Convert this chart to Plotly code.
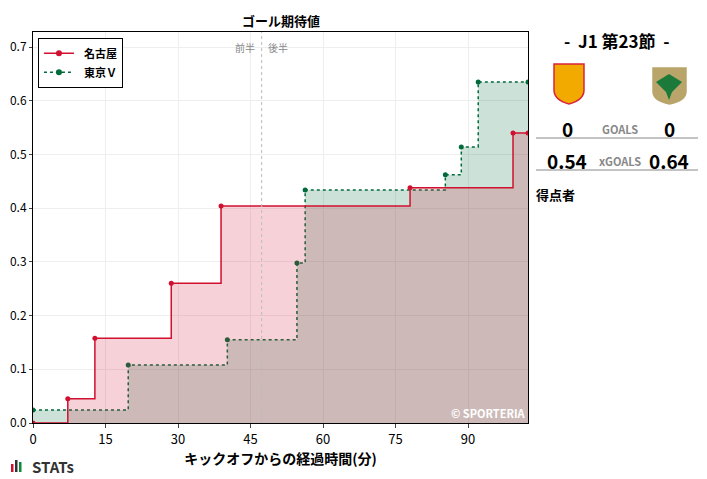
import plotly.graph_objects as go

nagoya_x = [0, 7.2, 12.8, 28.6, 38.9, 78.0, 99.3, 102.4]
nagoya_y = [0, 0.045, 0.158, 0.26, 0.404, 0.438, 0.54, 0.54]
tokyo_x = [0, 19.7, 40.2, 54.6, 56.3, 85.3, 88.6, 92.1, 102.4]
tokyo_y = [0.024, 0.108, 0.155, 0.298, 0.434, 0.462, 0.514, 0.635, 0.635]
xticks = [0, 15, 30, 45, 60, 75, 90]
yticks = [0, 0.1, 0.2, 0.3, 0.4, 0.5, 0.6, 0.7]
half_time = 47.3

FONT = "Noto Sans CJK JP"
O = 8  # page offset of the plot div
W, H = 707 - O, 479 - O
L, R, T, B = 33, 528, 32, 423  # plot area in reference pixels
fig = go.Figure()
fig.add_trace(go.Scatter(x=tokyo_x, y=tokyo_y, line_shape="hv", fill="tozeroy",
    fillcolor="rgba(0,110,60,0.2)", mode="lines+markers",
    line=dict(color="#006b3a", width=1.5, dash="dot"), marker=dict(size=5),
    name="東京Ｖ", showlegend=False))
fig.add_trace(go.Scatter(x=nagoya_x, y=nagoya_y, line_shape="hv", fill="tozeroy",
    fillcolor="rgba(210,30,60,0.2)", mode="lines+markers",
    line=dict(color="#d0102e", width=1.5), marker=dict(size=5),
    name="名古屋", showlegend=False))
fig.add_trace(go.Scatter(x=[None], y=[None], mode="lines+markers", name="<b>  名古屋</b>",
    line=dict(color="#d0102e", width=1.5), marker=dict(size=6)))
fig.add_trace(go.Scatter(x=[None], y=[None], mode="lines+markers", name="<b>  東京Ｖ</b>",
    line=dict(color="#006b3a", width=1.5, dash="dot"), marker=dict(size=6)))

fig.add_shape(type="line", x0=half_time, x1=half_time, y0=0, y1=1, yref="paper",
    line=dict(color="#bbbbbb", width=1, dash="dot"))

ann = [
    dict(x=0.5, y=1.0, xref="paper", yref="paper", text="<b>ゴール期待値</b>", showarrow=False,
         yanchor="bottom", font=dict(size=13)),
    dict(x=half_time - 1, y=0.70, text="前半", showarrow=False, xanchor="right", font=dict(size=10, color="#888")),
    dict(x=half_time + 1, y=0.70, text="後半", showarrow=False, xanchor="left", font=dict(size=10, color="#888")),
    dict(x=1, y=0.0, xref="paper", yref="paper", text="<b>© SPORTERIA</b>", showarrow=False,
         xanchor="right", yanchor="bottom", font=dict(size=11, color="white")),
]
px = lambda v: (v - L) / (R - L)
py = lambda v: (B - v) / (B - T)
def pa(xp, yp, t, size, color="black", anchor="center"):
    ann.append(dict(x=px(xp), y=py(yp), xref="paper", yref="paper", text=t, showarrow=False,
                    xanchor=anchor, yanchor="middle", font=dict(size=size, color=color, family=FONT)))
pa(617, 40, "<b>-  J1 第23節  -</b>", 17)
pa(567, 128, "<b>0</b>", 19)
pa(620, 129, "<b>GOALS</b>", 11, "#888")
pa(669, 128, "<b>0</b>", 19)
pa(567, 160, "<b>0.54</b>", 19)
pa(620, 161, "<b>xGOALS</b>", 11, "#888")
pa(669, 160, "<b>0.64</b>", 19)
pa(534, 195, "<b>得点者</b>", 13, anchor="left")
pa(30, 466, "<b>STATs</b>", 15, "#333", anchor="left")
fig.update_layout(annotations=ann)

shapes = [
    dict(type="line", xref="paper", yref="paper", x0=px(536), x1=px(698), y0=py(138), y1=py(138), line=dict(color="#888", width=1)),
    dict(type="line", xref="paper", yref="paper", x0=px(536), x1=px(698), y0=py(170), y1=py(170), line=dict(color="#888", width=1)),
]
def shield(x0, y0, w, h, fill, line):
    path = (f"M {px(x0)},{py(y0)} L {px(x0+w)},{py(y0)} L {px(x0+w)},{py(y0+h*0.65)} "
            f"Q {px(x0+w)},{py(y0+h*0.9)} {px(x0+w/2)},{py(y0+h)} "
            f"Q {px(x0)},{py(y0+h*0.9)} {px(x0)},{py(y0+h*0.65)} Z")
    return dict(type="path", xref="paper", yref="paper", path=path, fillcolor=fill, line=dict(color=line, width=1.5))
shapes.append(shield(554, 64, 30, 40, "#f2a900", "#d8263a"))
shapes.append(shield(653, 68, 33, 36, "#b9a46a", "#b9a46a"))
shapes.append(dict(type="path", xref="paper", yref="paper",
    path=f"M {px(669)},{py(74)} L {px(682)},{py(82)} L {px(672)},{py(92)} L {px(669)},{py(100)} L {px(666)},{py(92)} L {px(656)},{py(82)} Z",
    fillcolor="#1b7a3a", line=dict(width=0)))
for i, (c, hgt) in enumerate([("#d0102e", 8), ("#333", 12), ("#0a8a3a", 10)]):
    shapes.append(dict(type="rect", xref="paper", yref="paper", x0=px(11 + i*4), x1=px(13.5 + i*4),
                       y0=py(472), y1=py(472 - hgt), fillcolor=c, line=dict(width=0)))
for s in shapes:
    fig.add_shape(s)

fig.update_layout(
    width=W, height=H, margin=dict(l=L - O, r=W - (R - O), t=T - O, b=H - (B - O)),
    plot_bgcolor="white", paper_bgcolor="white",
    font=dict(family=FONT, size=12, color="black"),
    legend=dict(x=0.01, y=0.985, xanchor="left", yanchor="top", bordercolor="black", borderwidth=1,
                font=dict(size=11), bgcolor="white"),
    xaxis=dict(range=[0, 102.4], tickvals=xticks, showgrid=True, gridcolor="#eeeeee", automargin=False,
               ticks="outside", ticklen=4, showline=True, linecolor="black", mirror=True, zeroline=False,
               tickfont=dict(size=13),
               title=dict(text="<b>キックオフからの経過時間(分)</b>", font=dict(size=14), standoff=4)),
    yaxis=dict(range=[0, 0.728], tickvals=yticks, tickformat=".1f", showgrid=True, gridcolor="#eeeeee",
               automargin=False, ticks="outside", ticklen=3, showline=True, linecolor="black", mirror=True,
               zeroline=False, tickfont=dict(size=12)),
)
fig.write_html("out.html")
